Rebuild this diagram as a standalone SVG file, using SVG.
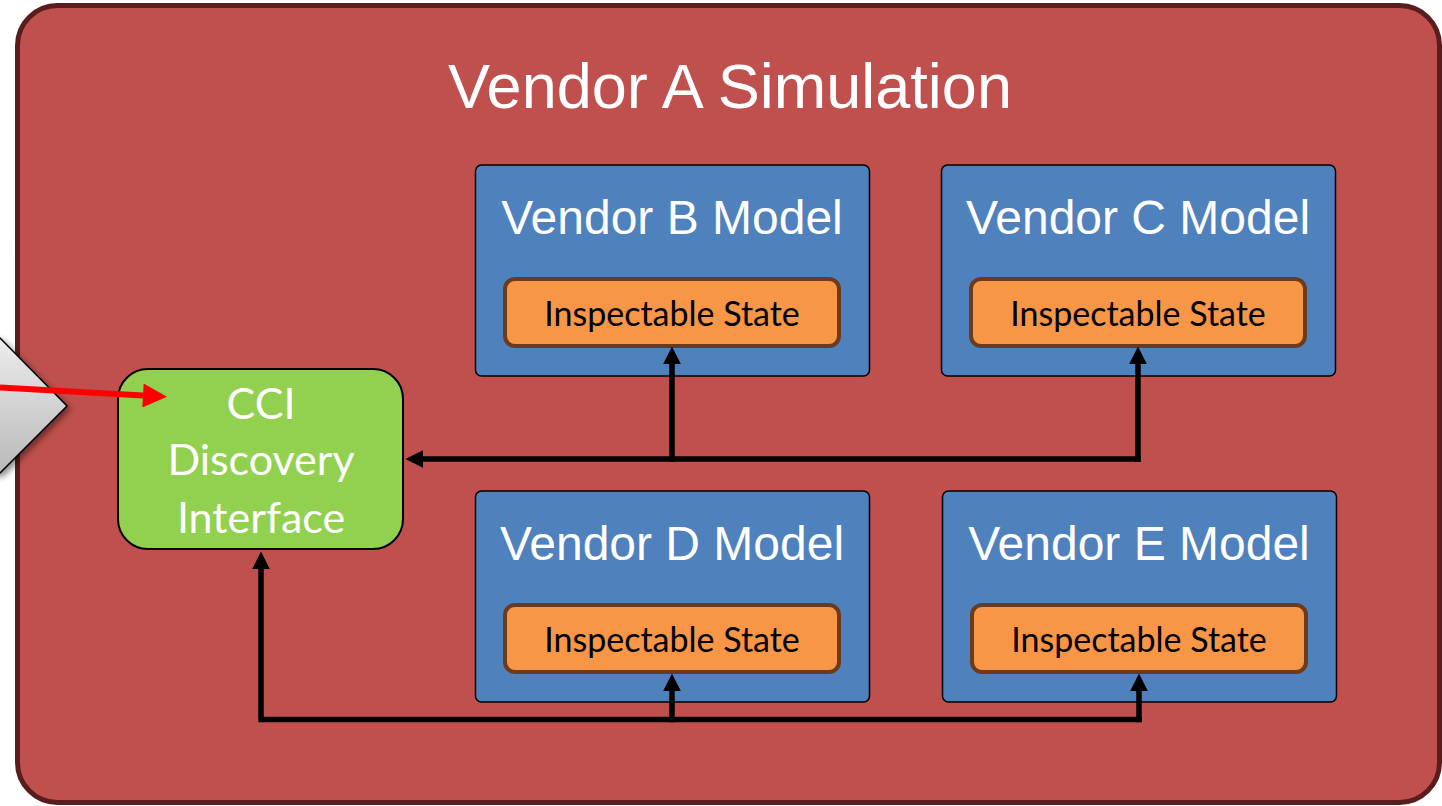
<svg xmlns="http://www.w3.org/2000/svg" width="1442" height="806" viewBox="0 0 1442 806">
  <defs>
    <linearGradient id="greyFill" x1="0" y1="0" x2="0" y2="1">
      <stop offset="0" stop-color="#ececec"/>
      <stop offset="1" stop-color="#b9b9b9"/>
    </linearGradient>
    <filter id="softShadow" x="-20%" y="-20%" width="150%" height="150%">
      <feGaussianBlur in="SourceAlpha" stdDeviation="3"/>
      <feOffset dx="3" dy="3" result="b"/>
      <feComponentTransfer><feFuncA type="linear" slope="0.45"/></feComponentTransfer>
      <feMerge><feMergeNode/><feMergeNode in="SourceGraphic"/></feMerge>
    </filter>
    <!-- arrowheads start at the end of the line and extend past it -->
    <marker id="arrowBlack" viewBox="0 0 10 10" refX="0" refY="5" markerWidth="3.2" markerHeight="3.2" markerUnits="strokeWidth" orient="auto">
      <path d="M0,0 L10,5 L0,10 Z" fill="#000"/>
    </marker>
    <marker id="arrowRed" viewBox="0 0 10 10" refX="0" refY="5" markerWidth="4.2" markerHeight="4" markerUnits="strokeWidth" orient="auto">
      <path d="M0,0 L10,5 L0,10 Z" fill="#ff0000"/>
    </marker>
    <style>
      .sim { fill: #c0504d; stroke: #5a1d1d; stroke-width: 5; }
      .model { fill: #4f81bd; stroke: #000; stroke-width: 1.5; }
      .state { fill: #f79646; stroke: #6b3b1b; stroke-width: 4; }
      .cci { fill: #92d050; stroke: #000; stroke-width: 2; }
      .title { font-family: "Liberation Sans", Arial, sans-serif; fill: #fff; text-anchor: middle; }
      .label { font-family: Lato, "Open Sans", sans-serif; text-anchor: middle; }
      .wire { fill: none; stroke: #000; stroke-width: 5.5; stroke-linejoin: miter; stroke-linecap: square; }
    </style>
  </defs>

  <!-- enclosing simulation -->
  <g id="vendor-a-simulation">
    <rect class="sim" x="17.5" y="5.5" width="1422" height="797" rx="40" ry="40"/>
    <text class="title" x="730" y="108" font-size="63">Vendor A Simulation</text>
  </g>

  <!-- external caller shape entering from the left -->
  <g id="external-caller">
    <path d="M-40,338 L0,338 L67,406 L0,473 L-40,473 Z" fill="url(#greyFill)" stroke="#000" stroke-width="1.5" filter="url(#softShadow)"/>
  </g>

  <g id="vendor-b-model">
    <rect class="model" x="475.5" y="165" width="394" height="211" rx="6"/>
    <text class="title" x="672" y="234" font-size="48">Vendor B Model</text>
    <rect class="state" x="505" y="279" width="334" height="67" rx="10"/>
    <text class="label" x="672" y="326" font-size="34">Inspectable State</text>
  </g>

  <g id="vendor-c-model">
    <rect class="model" x="941.5" y="165" width="394" height="211" rx="6"/>
    <text class="title" x="1138" y="234" font-size="48">Vendor C Model</text>
    <rect class="state" x="971" y="279" width="334" height="67" rx="10"/>
    <text class="label" x="1138" y="326" font-size="34">Inspectable State</text>
  </g>

  <g id="vendor-d-model">
    <rect class="model" x="475.5" y="491" width="394" height="211" rx="6"/>
    <text class="title" x="672" y="560" font-size="48">Vendor D Model</text>
    <rect class="state" x="505" y="605" width="334" height="67" rx="10"/>
    <text class="label" x="672" y="652" font-size="34">Inspectable State</text>
  </g>

  <g id="vendor-e-model">
    <rect class="model" x="942.5" y="491" width="394" height="211" rx="6"/>
    <text class="title" x="1139" y="560" font-size="48">Vendor E Model</text>
    <rect class="state" x="972" y="605" width="334" height="67" rx="10"/>
    <text class="label" x="1139" y="652" font-size="34">Inspectable State</text>
  </g>

  <g id="cci-discovery-interface">
    <rect class="cci" x="118" y="369" width="285" height="180" rx="30"/>
    <text class="label" x="261" y="419" font-size="43" fill="#fff">CCI</text>
    <text class="label" x="261" y="475" font-size="43" fill="#fff">Discovery</text>
    <text class="label" x="261" y="533" font-size="43" fill="#fff">Interface</text>
  </g>

  <!-- connectors -->
  <g id="connectors">
    <path class="wire" d="M672,459 L672,364" marker-end="url(#arrowBlack)"/>
    <path class="wire" d="M1138,459 L1138,364" marker-end="url(#arrowBlack)"/>
    <path class="wire" d="M1138,459 L423,459" marker-end="url(#arrowBlack)"/>
    <path class="wire" d="M672,719.5 L672,691" marker-end="url(#arrowBlack)"/>
    <path class="wire" d="M1139,719.5 L1139,691" marker-end="url(#arrowBlack)"/>
    <path class="wire" d="M1139,719.5 L261,719.5 L261,569" marker-end="url(#arrowBlack)"/>
    <path d="M0,387.5 L143,395.5" fill="none" stroke="#ff0000" stroke-width="6" marker-end="url(#arrowRed)"/>
  </g>
</svg>
